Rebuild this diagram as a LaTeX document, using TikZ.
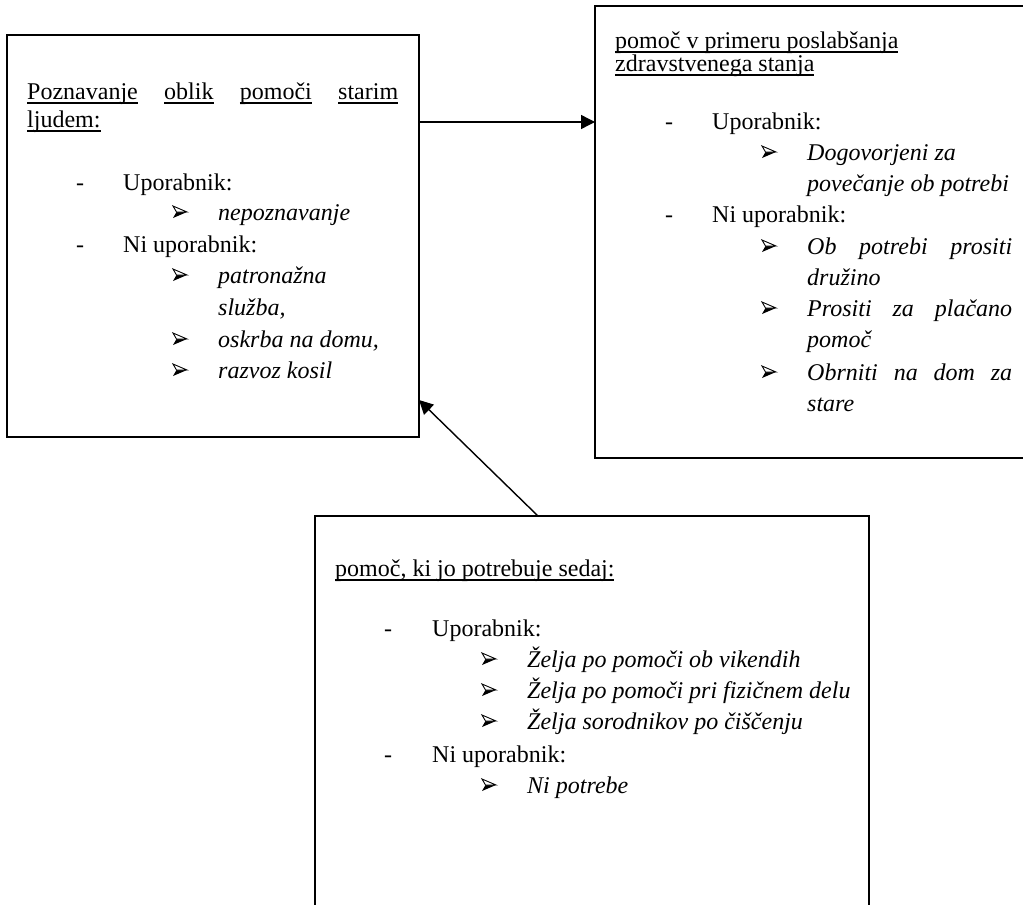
\documentclass[tikz,border=0pt]{standalone}
\usepackage{fontspec}
\setmainfont{Liberation Serif}
\usetikzlibrary{arrows.meta}
\newlength\ulwd
\newcommand\myul[1]{\settowidth\ulwd{#1}\rlap{\rule[-4.6pt]{\ulwd}{1.4pt}}#1}
\tikzset{
  box/.style={draw, line width=1.7pt, inner sep=0pt, outer sep=0pt, anchor=north west},
  txt/.style={anchor=base west, inner sep=0pt, font=\fontsize{24}{29}\selectfont},
  ittxt/.style={anchor=base west, inner sep=0pt, font=\fontsize{24}{29}\selectfont\itshape},
  arr/.style={line width=1.4pt, -{Triangle[length=14pt,width=14pt]}},
  pics/bul/.style={code={
    \fill[black] (0,6) -- (3.5,0) -- (14,0) -- cycle;
    \draw[black, line width=0.9pt, line join=miter, fill=white] (0,-6) -- (14,0) -- (3.5,0) -- cycle;
  }}
}
\begin{document}
\begin{tikzpicture}[x=1pt,y=-1pt]
\useasboundingbox (0,0) rectangle (1023,905);
% boxes
\node[box, minimum width=412pt, minimum height=402pt] (A) at (7,35) {};
\node[box, minimum width=460pt, minimum height=452pt] (B) at (595,6) {};
\node[box, minimum width=554pt, minimum height=420pt] (C) at (315,516) {};
% box A text
\node[txt] (a1) at (27,99) {\makebox[371pt][s]{\myul{Poznavanje} \myul{oblik} \myul{pomoči} \myul{starim}}};
\node[txt] (a2) at (27,127) {\myul{ljudem:}};
\node[txt] (a3) at (76,190) {-};
\node[txt] (a4) at (123,190) {Uporabnik:};
\pic at (173,212) {bul};
\node[ittxt] (a6) at (218,220) {nepoznavanje};
\node[txt] (a7) at (76,252) {-};
\node[txt] (a8) at (123,252) {Ni uporabnik:};
\pic at (173,275) {bul};
\node[ittxt] (a10) at (218,283) {patronažna};
\node[ittxt] (a11) at (218,315) {služba,};
\pic at (173,339) {bul};
\node[ittxt] (a13) at (218,347) {oskrba na domu,};
\pic at (173,370) {bul};
\node[ittxt] (a15) at (218,378) {razvoz kosil};
% box B text
\node[txt] (b1) at (615,48) {\myul{pomoč v primeru poslabšanja}};
\node[txt] (b2) at (615,71) {\myul{zdravstvenega stanja}};
\node[txt] (b3) at (665,129) {-};
\node[txt] (b4) at (712,129) {Uporabnik:};
\pic at (762,152) {bul};
\node[ittxt] (b6) at (807,160) {Dogovorjeni za};
\node[ittxt] (b7) at (807,191) {povečanje ob potrebi};
\node[txt] (b8) at (665,222) {-};
\node[txt] (b9) at (712,222) {Ni uporabnik:};
\pic at (762,246) {bul};
\node[ittxt] (b11) at (807,254) {\makebox[205pt][s]{Ob potrebi prositi}};
\node[ittxt] (b12) at (807,285) {družino};
\pic at (762,308) {bul};
\node[ittxt] (b14) at (807,316) {\makebox[205pt][s]{Prositi za plačano}};
\node[ittxt] (b15) at (807,347) {pomoč};
\pic at (762,372) {bul};
\node[ittxt] (b17) at (807,380) {\makebox[205pt][s]{Obrniti na dom za}};
\node[ittxt] (b18) at (807,411) {stare};
% box C text
\node[txt] (c1) at (335,576) {\myul{pomoč, ki jo potrebuje sedaj:}};
\node[txt] (c2) at (384,636) {-};
\node[txt] (c3) at (432,636) {Uporabnik:};
\pic at (482,659) {bul};
\node[ittxt] (c5) at (527,667) {Želja po pomoči ob vikendih};
\pic at (482,690) {bul};
\node[ittxt] (c7) at (527,698) {Želja po pomoči pri fizičnem delu};
\pic at (482,721) {bul};
\node[ittxt] (c9) at (527,729) {Želja sorodnikov po čiščenju};
\node[txt] (c10) at (384,762) {-};
\node[txt] (c11) at (432,762) {Ni uporabnik:};
\pic at (482,785) {bul};
\node[ittxt] (c13) at (527,793) {Ni potrebe};
% connectors
\coordinate (ya) at (0,122);
\coordinate (yb) at (0,400);
\coordinate (xc) at (538,0);
\draw[arr] (A.east |- ya) -- (B.west |- ya);
\draw[arr] (C.north -| xc) -- (A.east |- yb);
\end{tikzpicture}
\end{document}
